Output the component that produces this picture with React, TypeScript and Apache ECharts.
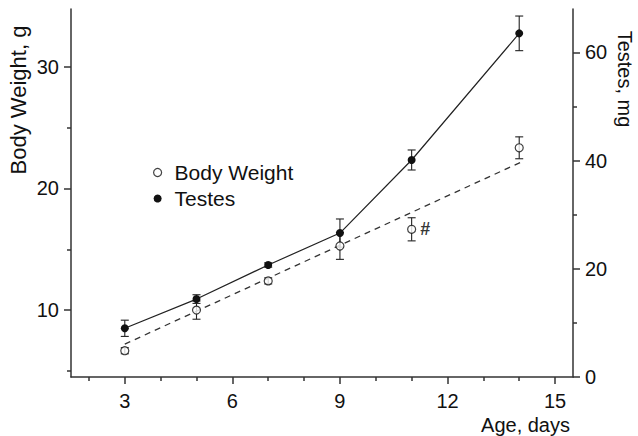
import React, { useEffect, useRef } from 'react';
import * as echarts from 'echarts';

const ages = [3, 5, 7, 9, 11, 14];
const bodyWeight = [6.66, 10.0, 12.4, 15.27, 16.64, 23.34];
const bodyWeightErr = [0.25, 0.75, 0.25, 1.1, 0.95, 0.9];
const testes = [9.0, 14.4, 20.7, 26.6, 40.1, 63.5];
const testesErr = [1.5, 0.8, 0.4, 2.6, 1.85, 3.2];
const bwNotes = ['', '', '', '', '#', ''];
const bwFitAges = [3, 14.15];
const bwFitValues = [7.2, 22.3];
const xMajorTicks = [3, 6, 9, 12, 15];
const xMinorTicks = [2, 4, 5, 7, 8, 10, 11, 13, 14];
const bwMajorTicks = [10, 20, 30];
const bwMinorTicks = [5, 15, 25];
const testesMajorTicks = [0, 20, 40, 60];
const testesMinorTicks = [10, 30, 50];

const FONT = '"Liberation Sans", Arial, sans-serif';
const AXIS_COLOR = '#333';
const TEXT_COLOR = '#111';

function errorBarRender(params: any, api: any) {
  const x = api.value(0);
  const lo = api.value(1);
  const hi = api.value(2);
  const top = api.coord([x, hi]);
  const bot = api.coord([x, lo]);
  const w = 4;
  const style = { stroke: '#222', lineWidth: 1.1 };
  return {
    type: 'group',
    children: [
      { type: 'line', shape: { x1: top[0], y1: top[1], x2: bot[0], y2: bot[1] }, style },
      { type: 'line', shape: { x1: top[0] - w, y1: top[1], x2: top[0] + w, y2: top[1] }, style },
      { type: 'line', shape: { x1: bot[0] - w, y1: bot[1], x2: bot[0] + w, y2: bot[1] }, style },
    ],
  };
}

export default function App() {
  const ref = useRef<HTMLDivElement>(null);
  useEffect(() => {
    if (!ref.current) return;
    const chart = echarts.init(ref.current, undefined, { renderer: 'svg' });
    const lineStyle = { color: AXIS_COLOR, width: 1.5 };
    const labelStyle = { fontSize: 20, color: TEXT_COLOR, fontFamily: FONT };
    const xRange = { min: 1.5, max: 15.5 };
    const bwRange = { min: 4.5, max: 34.75 };
    const tRange = { min: 0, max: 68 };
    const option: any = {
      animation: false,
      textStyle: { fontFamily: FONT },
      grid: { left: 71, right: 65, top: 9, bottom: 59, containLabel: false, outerBoundsMode: 'none' },
      xAxis: [
        {
          type: 'value', ...xRange, position: 'bottom',
          axisLine: { show: true, onZero: false, lineStyle },
          axisTick: { show: true, customValues: xMajorTicks, length: 7, lineStyle },
          axisLabel: { show: true, customValues: xMajorTicks, margin: 14, ...labelStyle },
          splitLine: { show: false },
        },
        {
          type: 'value', ...xRange, position: 'bottom',
          axisLine: { show: false, onZero: false },
          axisTick: { show: true, customValues: xMinorTicks, length: 4, lineStyle },
          axisLabel: { show: false },
          splitLine: { show: false },
        },
      ],
      yAxis: [
        {
          type: 'value', ...bwRange, position: 'left',
          axisLine: { show: true, onZero: false, lineStyle },
          axisTick: { show: true, customValues: bwMajorTicks, length: 7, lineStyle },
          axisLabel: { show: true, customValues: bwMajorTicks, margin: 12, ...labelStyle },
          splitLine: { show: false },
        },
        {
          type: 'value', ...tRange, position: 'right',
          axisLine: { show: true, onZero: false, lineStyle },
          axisTick: { show: true, customValues: testesMajorTicks, length: 7, lineStyle },
          axisLabel: { show: true, customValues: testesMajorTicks, margin: 12, ...labelStyle },
          splitLine: { show: false },
        },
        {
          type: 'value', ...bwRange, position: 'left',
          axisLine: { show: false, onZero: false },
          axisTick: { show: true, customValues: bwMinorTicks, length: 4, lineStyle },
          axisLabel: { show: false },
          splitLine: { show: false },
        },
        {
          type: 'value', ...tRange, position: 'right',
          axisLine: { show: false, onZero: false },
          axisTick: { show: true, customValues: testesMinorTicks, length: 4, lineStyle },
          axisLabel: { show: false },
          splitLine: { show: false },
        },
      ],
      legend: {
        data: [
          { name: 'Body Weight', icon: 'circle', itemStyle: { color: '#fff', borderColor: '#111', borderWidth: 1.2 } },
          { name: 'Testes', icon: 'circle', itemStyle: { color: '#111' } },
        ],
        orient: 'vertical',
        left: 148,
        top: 157,
        itemWidth: 8,
        itemHeight: 8,
        itemGap: 5,
        selectedMode: false,
        textStyle: { fontSize: 21, color: TEXT_COLOR, fontFamily: FONT, padding: [0, 0, 0, 8], lineHeight: 21 },
      },
      graphic: [
        {
          type: 'text', x: 18, y: 100, rotation: Math.PI / 2,
          style: { text: 'Body Weight, g', fontSize: 22, fill: TEXT_COLOR, fontFamily: FONT, align: 'center', verticalAlign: 'middle', textAlign: 'center', textVerticalAlign: 'middle' },
        },
        {
          type: 'text', x: 625, y: 79, rotation: -Math.PI / 2,
          style: { text: 'Testes, mg', fontSize: 20, fill: TEXT_COLOR, fontFamily: FONT, align: 'center', verticalAlign: 'middle', textAlign: 'center', textVerticalAlign: 'middle' },
        },
        {
          type: 'text', x: 570, y: 425,
          style: { text: 'Age, days', fontSize: 20, fill: TEXT_COLOR, fontFamily: FONT, align: 'right', verticalAlign: 'middle', textAlign: 'right', textVerticalAlign: 'middle' },
        },
      ],
      series: [
        {
          name: 'Body Weight error',
          type: 'custom',
          xAxisIndex: 0,
          yAxisIndex: 0,
          renderItem: errorBarRender,
          data: ages.map((a, i) => [a, bodyWeight[i] - bodyWeightErr[i], bodyWeight[i] + bodyWeightErr[i]]),
          z: 2,
          silent: true,
        },
        {
          name: 'Testes error',
          type: 'custom',
          xAxisIndex: 0,
          yAxisIndex: 1,
          renderItem: errorBarRender,
          data: ages.map((a, i) => [a, testes[i] - testesErr[i], testes[i] + testesErr[i]]),
          z: 2,
          silent: true,
        },
        {
          name: 'Body Weight trend',
          type: 'line',
          xAxisIndex: 0,
          yAxisIndex: 0,
          data: bwFitAges.map((a, i) => [a, bwFitValues[i]]),
          showSymbol: false,
          symbol: 'none',
          lineStyle: { color: '#333', width: 1.3, type: [6, 5] },
          z: 3,
          silent: true,
        },
        {
          name: 'Testes',
          type: 'line',
          xAxisIndex: 0,
          yAxisIndex: 1,
          data: ages.map((a, i) => [a, testes[i]]),
          symbol: 'circle',
          symbolSize: 8,
          itemStyle: { color: '#111' },
          lineStyle: { color: '#222', width: 1.2 },
          z: 4,
        },
        {
          name: 'Body Weight',
          type: 'scatter',
          xAxisIndex: 0,
          yAxisIndex: 0,
          symbol: 'circle',
          symbolSize: 8,
          itemStyle: { color: '#fff', borderColor: '#111', borderWidth: 1.2 },
          data: ages.map((a, i) => ({
            value: [a, bodyWeight[i]],
            label: {
              show: bwNotes[i] !== '',
              formatter: bwNotes[i],
              position: 'right',
              distance: 4,
              fontSize: 18,
              fontWeight: 'bold',
              color: '#000',
              fontFamily: FONT,
            },
          })),
          z: 5,
        },
      ],
    };
    chart.setOption(option);
    return () => chart.dispose();
  }, []);
  return (
    <div
      ref={ref}
      style={{ position: 'fixed', left: 0, top: 0, width: 638, height: 436, background: '#fff' }}
    />
  );
}
